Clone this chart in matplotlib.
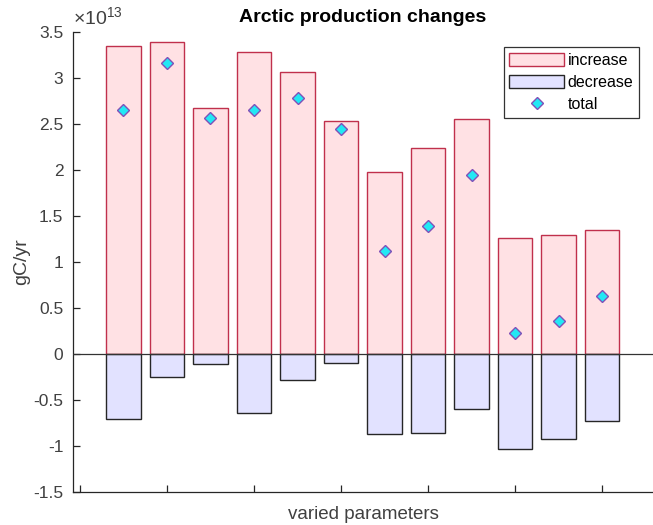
import numpy as np
import matplotlib
matplotlib.use("Agg")
from matplotlib import pyplot as plt

plt.rcParams['font.family'] = ['Liberation Sans', 'DejaVu Sans']
plt.rcParams['mathtext.fontset'] = 'custom'
plt.rcParams['mathtext.rm'] = 'Liberation Sans'
plt.rcParams['mathtext.it'] = 'Liberation Sans'

# production change per run, in units of 1e13 gC/yr
runs = np.arange(1, 13)
increase = [3.35, 3.395, 2.677, 3.28, 3.06, 2.53, 1.98, 2.24, 2.55, 1.26, 1.29, 1.35]
decrease = [-0.71, -0.247, -0.112, -0.638, -0.286, -0.098, -0.873, -0.859, -0.594, -1.03, -0.928, -0.725]
total = [2.65, 3.16, 2.57, 2.65, 2.78, 2.45, 1.12, 1.39, 1.95, 0.23, 0.36, 0.63]
scale = 1e13

axcol = '#262626'

fig = plt.figure(figsize=(6.53, 5.25), dpi=100)
ax = fig.add_axes([73/653, 33/525, 580/653, 460/525])

inc = np.array(increase) * scale
dec = np.array(decrease) * scale
tot = np.array(total) * scale

b1 = ax.bar(runs, inc, width=0.8, color='#ffe1e4', edgecolor='#c0304c', linewidth=1.0,
            label='increase', zorder=2)
b2 = ax.bar(runs, dec, width=0.8, color='#e2e2ff', edgecolor='#262626', linewidth=1.0,
            label='decrease', zorder=2)
ax.axhline(0, color='#333333', linewidth=0.9, zorder=3)
pt, = ax.plot(runs, tot, linestyle='none', marker='D', markersize=6.5,
              markerfacecolor='#22e8f4', markeredgecolor='#8050b8', markeredgewidth=1.0,
              label='total', zorder=4)

ax.set_xlim(-0.16, 13.17)
ax.set_ylim(-1.5 * scale, 3.5 * scale)
ax.set_xticks(np.arange(0, 13, 2))
ax.set_xticklabels([])
ax.set_yticks(np.arange(-1.5, 3.51, 0.5) * scale)
ax.set_yticklabels(['-1.5', '-1', '-0.5', '0', '0.5', '1', '1.5', '2', '2.5', '3', '3.5'])

for s in ['top', 'right']:
    ax.spines[s].set_visible(False)
for s in ['left', 'bottom']:
    ax.spines[s].set_color(axcol)
    ax.spines[s].set_linewidth(0.9)
ax.tick_params(direction='in', length=5, width=0.9, colors=axcol, labelsize=12.5, pad=7)
ax.tick_params(axis='y', labelcolor='#404040')

ax.text(0.0, 1.008, r'$\times10^{13}$', transform=ax.transAxes, fontsize=14,
        color='#404040', ha='left', va='bottom')
ax.set_title('Arctic production changes', fontsize=14, fontweight='bold', pad=7)
ax.set_ylabel('gC/yr', fontsize=14, color='#404040', labelpad=2)
ax.set_xlabel('varied parameters', fontsize=13.5, color='#404040', labelpad=3)

leg = ax.legend([b1, b2, pt], ['increase', 'decrease', 'total'],
                loc='upper right', bbox_to_anchor=(0.976, 0.967), fontsize=11.5,
                handlelength=3.4, handleheight=0.85, handletextpad=0.25,
                labelspacing=0.45, borderpad=0.35, borderaxespad=0,
                fancybox=False, framealpha=1)
leg.get_frame().set_edgecolor('#333333')
leg.get_frame().set_linewidth(0.9)

plt.savefig('out.png', dpi=100)
plt.close()
